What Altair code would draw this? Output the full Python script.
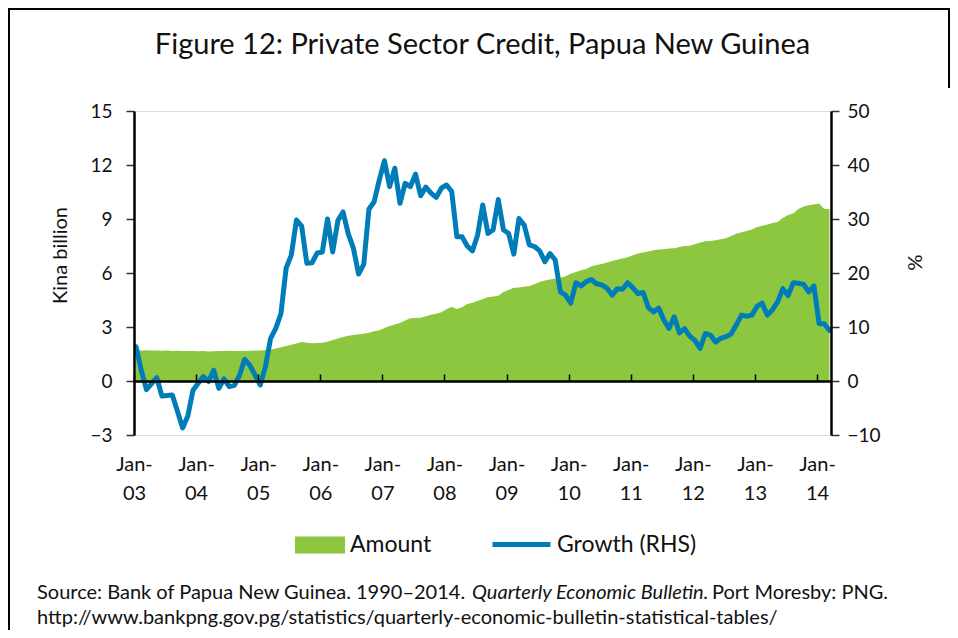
import json
import altair as alt
import pandas as pd

# ---------------- data ----------------
months = pd.date_range("2003-01-01", periods=135, freq="MS").strftime("%Y-%m").tolist()

amount = [
    1.72, 1.70, 1.71, 1.69, 1.70, 1.68, 1.69, 1.67, 1.68, 1.66, 1.67, 1.66,
    1.65, 1.66, 1.64, 1.65, 1.67, 1.66, 1.68, 1.67, 1.66, 1.67, 1.68, 1.69,
    1.70, 1.72, 1.74, 1.80, 1.88, 1.95, 2.02, 2.08, 2.17, 2.12, 2.10, 2.11,
    2.13, 2.18, 2.28, 2.36, 2.45, 2.52, 2.55, 2.60, 2.62, 2.68, 2.76, 2.82,
    2.95, 3.06, 3.14, 3.22, 3.36, 3.48, 3.50, 3.52, 3.60, 3.68, 3.74, 3.82,
    3.98, 4.12, 4.00, 4.10, 4.28, 4.35, 4.45, 4.55, 4.65, 4.70, 4.74, 4.95,
    5.05, 5.18, 5.20, 5.24, 5.28, 5.38, 5.50, 5.58, 5.64, 5.70, 5.74, 5.82,
    5.96, 6.05, 6.15, 6.22, 6.38, 6.44, 6.50, 6.58, 6.66, 6.74, 6.80, 6.88,
    6.98, 7.08, 7.14, 7.20, 7.26, 7.31, 7.32, 7.36, 7.38, 7.44, 7.50, 7.52,
    7.60, 7.70, 7.76, 7.78, 7.82, 7.88, 7.93, 8.05, 8.18, 8.26, 8.34, 8.42,
    8.55, 8.62, 8.70, 8.78, 8.84, 9.05, 9.22, 9.30, 9.55, 9.70, 9.76, 9.80,
    9.86, 9.55, 9.56,
]

growth = [
    6.35, 2.0, -1.6, -0.5, 0.6, -2.8, -2.7, -2.6, -5.6, -8.7, -6.5, -1.7,
    -0.4, 0.8, -0.1, 2.0, -1.35, 0.4, -1.05, -0.8, 1.1, 4.0, 2.9, 1.1,
    -0.74, 2.65, 7.9, 9.75, 12.5, 20.9, 23.3, 29.8, 28.7, 21.8, 21.9, 23.7,
    23.9, 30.0, 23.9, 29.7, 31.3, 27.3, 24.6, 19.8, 21.6, 31.8, 33.2, 37.2,
    40.8, 36.0, 39.4, 32.9, 36.6, 36.0, 38.3, 34.3, 35.9, 34.8, 34.0, 35.7,
    36.3, 35.1, 26.7, 26.7, 25.0, 24.1, 27.0, 32.6, 27.3, 28.0, 33.6, 28.0,
    27.3, 23.5, 30.1, 28.9, 25.2, 24.9, 24.1, 22.1, 23.6, 22.4, 16.5, 15.9,
    14.4, 18.2, 17.6, 18.4, 18.8, 18.0, 17.8, 17.2, 15.9, 17.1, 17.0, 18.2,
    17.3, 16.2, 16.4, 13.6, 12.8, 13.5, 11.3, 9.75, 11.9, 8.9, 9.7, 8.3,
    7.5, 6.05, 8.8, 8.5, 7.2, 7.9, 8.2, 8.7, 10.4, 12.2, 12.0, 12.2,
    13.8, 14.4, 12.2, 13.2, 14.7, 17.1, 15.8, 18.2, 18.1, 17.9, 16.5, 17.6,
    10.6, 10.6, 9.4,
]

year_labels = ["03", "04", "05", "06", "07", "08", "09", "10", "11", "12", "13", "14"]
left_ticks = [-3, 0, 3, 6, 9, 12, 15]
right_ticks = [-10, 0, 10, 20, 30, 40, 50]

title_text = "Figure 12: Private Sector Credit, Papua New Guinea"
source_parts = [
    "Source: Bank of Papua New Guinea. 1990\u20132014.",
    "Quarterly Economic Bulletin.",
    "Port Moresby: PNG.",
]
url_text = "http://www.bankpng.gov.pg/statistics/quarterly-economic-bulletin-statistical-tables/"

# ---------------- build ----------------
df = pd.DataFrame({"month": months, "idx": list(range(len(months))),
                   "amount": amount, "growth": growth})

FONT = "Lato"
GREEN = "#8DC63F"
BLUE = "#007DB9"
INK = "#111111"

x_domain = [-0.4, 134.3]
tick_vals = [12 * k - 0.4 for k in range(len(year_labels))]
label_expr = "['Jan-', " + json.dumps(year_labels) + "[round((datum.value + 0.4) / 12)]]"

x_scale = alt.Scale(domain=x_domain, nice=False, zero=False)

area = alt.Chart(df).mark_area(color=GREEN, opacity=1).transform_calculate(
    series="'Amount'"
).encode(
    x=alt.X("idx:Q", scale=x_scale,
            axis=alt.Axis(values=tick_vals, labelExpr=label_expr, ticks=False,
                          domain=False, grid=False, title=None, labelFont=FONT,
                          labelFontSize=20, labelColor=INK, labelPadding=19,
                          labelLineHeight=29, labelBaseline="top",
                          labelFlush=False, labelOverlap=False, labelAngle=0)),
    y=alt.Y("amount:Q", scale=alt.Scale(domain=[-3, 15], nice=False, zero=False),
            axis=alt.Axis(values=left_ticks, orient="left", grid=False,
                          title="Kina billion", titleFont=FONT, titleFontSize=20,
                          titleFontWeight="normal", titleColor=INK,
                          titleAngle=-90, titleX=-74, titleY=144,
                          titleAlign="center", titleBaseline="middle",
                          domainColor="black", domainWidth=2.5,
                          tickColor="#333", tickSize=8, tickWidth=1.5,
                          labelFont=FONT, labelFontSize=19, labelColor=INK,
                          labelPadding=14, zindex=1)),
    y2=alt.datum(0),
    fill=alt.Fill("series:N", scale=alt.Scale(domain=["Amount"], range=[GREEN]),
                  legend=alt.Legend(title=None, orient="none", legendX=161,
                                    legendY=409, symbolType="M-1,-0.34H1V0.34H-1Z",
                                    symbolSize=2500, symbolStrokeWidth=0,
                                    symbolOpacity=1, labelFont=FONT,
                                    labelFontSize=23, labelColor=INK,
                                    labelOffset=5, padding=0)),
)

line = alt.Chart(df).mark_line(color=BLUE, strokeWidth=5, strokeJoin="round",
                               strokeCap="round").transform_calculate(
    series="'Growth (RHS)'"
).encode(
    x=alt.X("idx:Q", scale=x_scale,
            axis=alt.Axis(values=tick_vals, orient="top", offset=-270,
                          labels=False, domain=True, domainColor="black",
                          domainWidth=2.5, ticks=True, tickSize=7,
                          tickColor="black", tickWidth=1.5, grid=False,
                          title=None, zindex=1)),
    y=alt.Y("growth:Q", scale=alt.Scale(domain=[-10, 50], nice=False, zero=False),
            axis=alt.Axis(values=right_ticks, orient="right", grid=False,
                          title="%", titleFont=FONT, titleFontSize=20,
                          titleFontWeight="normal", titleColor=INK,
                          titleAngle=90, titleX=82, titleY=151,
                          titleAlign="center", titleBaseline="middle",
                          domainColor="black", domainWidth=2.5,
                          tickColor="#333", tickSize=8, tickWidth=1.5,
                          labelFont=FONT, labelFontSize=19, labelColor=INK,
                          labelPadding=8, zindex=1)),
    stroke=alt.Stroke("series:N", scale=alt.Scale(domain=["Growth (RHS)"], range=[BLUE]),
                      legend=alt.Legend(title=None, orient="none", legendX=356,
                                        legendY=402, symbolType="stroke",
                                        symbolSize=3364, symbolStrokeWidth=5,
                                        labelFont=FONT, labelFontSize=23,
                                        labelColor=INK, labelOffset=4,
                                        padding=0)),
)

one = pd.DataFrame({"t": [title_text]})
title_mark = alt.Chart(one).mark_text(font=FONT, fontSize=29, color=INK,
                                      align="center", baseline="middle").encode(
    text="t:N", x=alt.value(348.5), y=alt.value(-66))

src1 = alt.Chart(pd.DataFrame({"t": [source_parts[0]]})).mark_text(
    font=FONT, fontSize=20, color=INK, align="left", baseline="middle").encode(
    text="t:N", x=alt.value(-97), y=alt.value(482))
src2 = alt.Chart(pd.DataFrame({"t": [source_parts[1]]})).mark_text(
    font=FONT, fontSize=20, fontStyle="italic", color=INK, align="left",
    baseline="middle").encode(text="t:N", x=alt.value(338), y=alt.value(482))
src3 = alt.Chart(pd.DataFrame({"t": [source_parts[2]]})).mark_text(
    font=FONT, fontSize=20, color=INK, align="left", baseline="middle").encode(
    text="t:N", x=alt.value(578), y=alt.value(482))
src4 = alt.Chart(pd.DataFrame({"t": [url_text]})).mark_text(
    font=FONT, fontSize=20, color=INK, align="left", baseline="middle").encode(
    text="t:N", x=alt.value(-97), y=alt.value(507))

frame_left = alt.Chart(one).mark_rule(color="black", strokeWidth=2).encode(
    x=alt.value(-125), y=alt.value(-103), y2=alt.value(520))
frame_top = alt.Chart(one).mark_rule(color="black", strokeWidth=2).encode(
    x=alt.value(-125), x2=alt.value(815), y=alt.value(-102))
frame_right = alt.Chart(one).mark_rule(color="black", strokeWidth=2).encode(
    x=alt.value(815), y=alt.value(-103), y2=alt.value(-23))

chart = alt.layer(
    area, line, title_mark, src1, src2, src3, src4, frame_left, frame_top, frame_right
).resolve_scale(
    y="independent", fill="independent", stroke="independent"
).resolve_axis(
    x="independent"
).properties(
    width=697, height=324,
    autosize=alt.AutoSizeParams(type="none"),
    padding={"left": 126, "top": 103, "right": 119, "bottom": 195},
).configure_view(
    stroke="#A6A6A6", strokeWidth=2
).configure(background="white")

chart.save("out.html", embed_options={"renderer": "svg", "actions": False})
